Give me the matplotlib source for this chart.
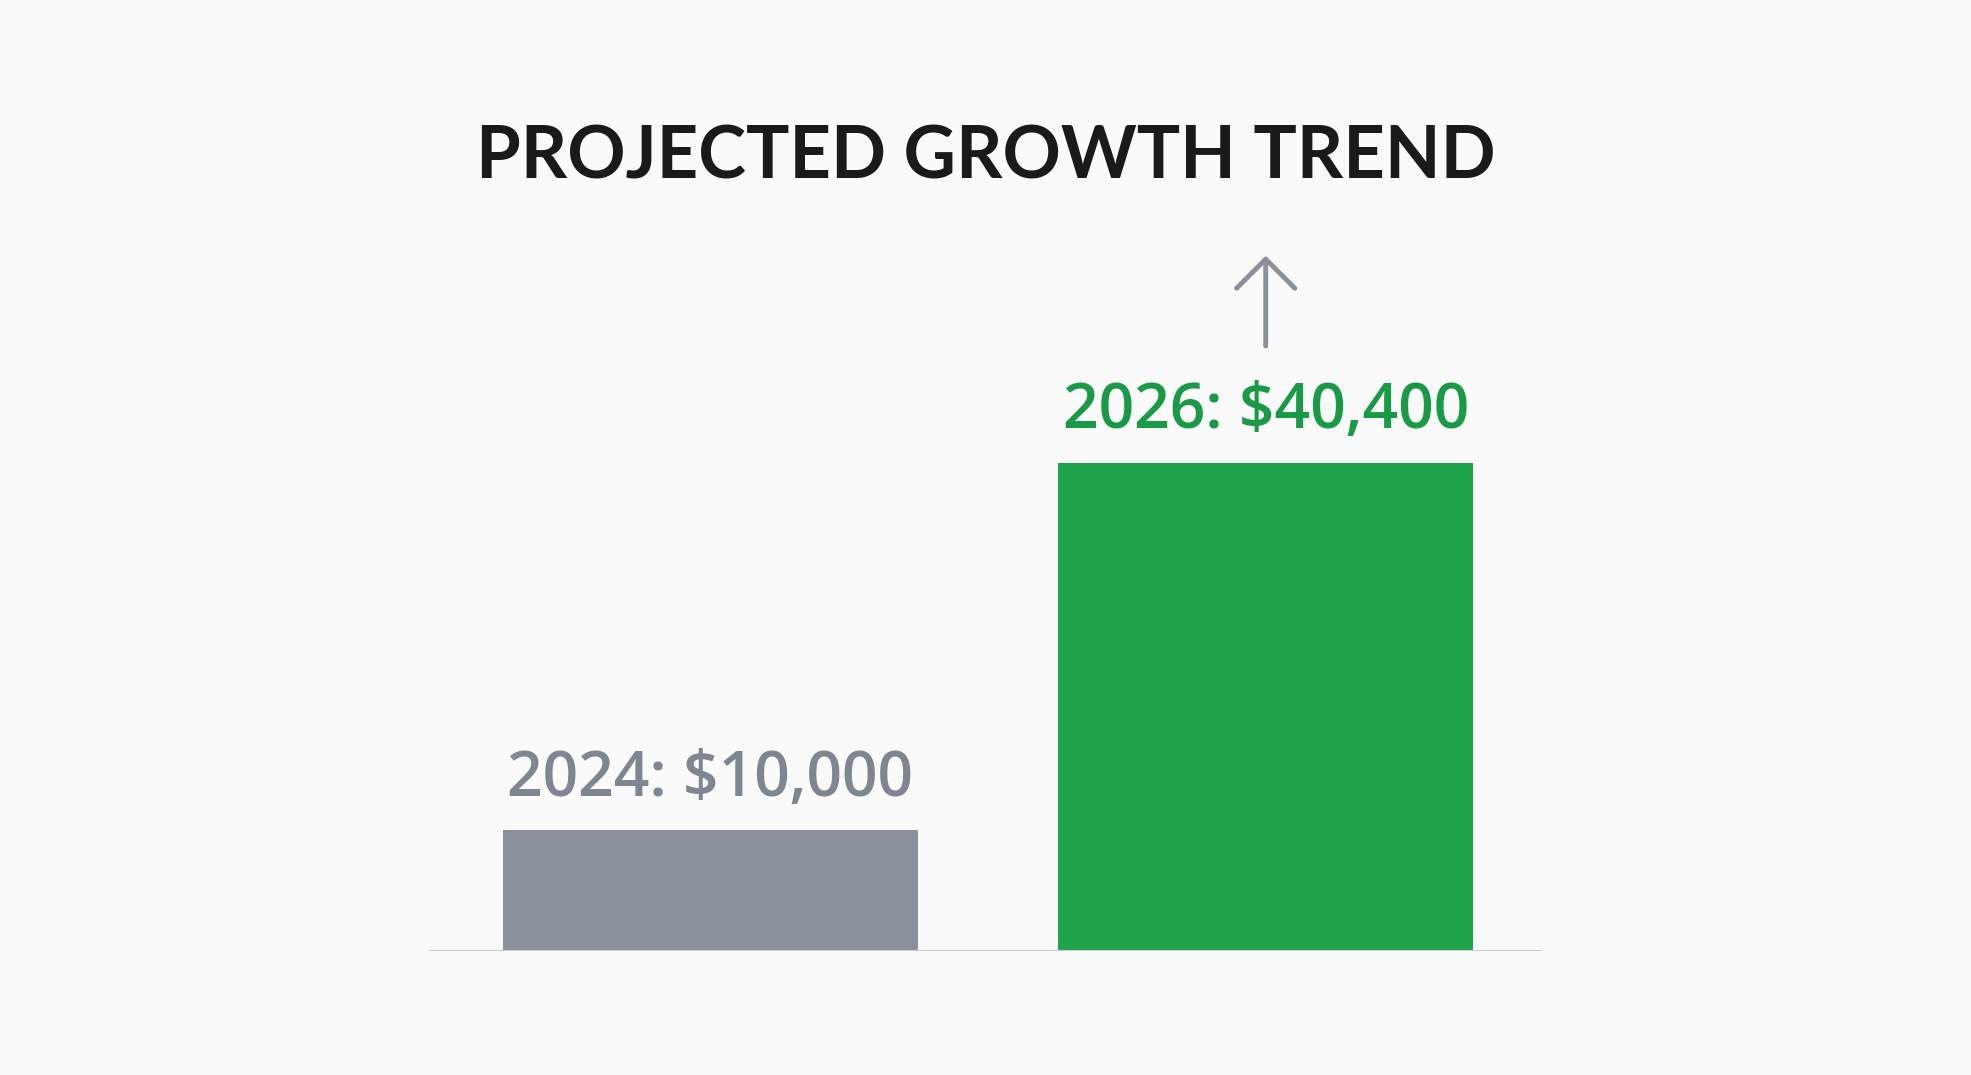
import matplotlib.pyplot as plt
from matplotlib.transforms import offset_copy

years = ["2024", "2026"]
values = [10000, 40400]
bar_colors = ["#8a909c", "#1fa34a"]
label_colors = ["#7f8591", "#1a9a47"]

fig = plt.figure(figsize=(19.71, 10.75), dpi=100, facecolor="#fafafa")
ax = fig.add_axes([0.2175, 0.115, 0.565, 0.835])
ax.set_facecolor("#fafafa")

ax.bar(range(len(values)), values, width=0.747, color=bar_colors, zorder=2)
ax.set_xlim(-0.507, 1.498)
ax.set_ylim(0, 74200)

for i, (yr, v) in enumerate(zip(years, values)):
    ax.annotate(f"{yr}: ${v:,}", (i, v), xytext=(0, 14), textcoords="offset points",
                ha="center", va="bottom", fontsize=45, fontweight="semibold",
                color=label_colors[i], family=["Open Sans", "DejaVu Sans"])

# growth arrow above the taller bar
tr_head = offset_copy(ax.transData, fig=fig, x=0, y=149, units="points")
tr_tail = offset_copy(ax.transData, fig=fig, x=0, y=84, units="points")
ax.annotate("", xy=(1, values[1]), xycoords=tr_head,
            xytext=(1, values[1]), textcoords=tr_tail,
            arrowprops=dict(arrowstyle="->,head_length=2.1,head_width=2.1",
                            color="#8a8f99", lw=3.5, shrinkA=0, shrinkB=0))

ax.axhline(0, color="#cccccc", lw=1.5, zorder=3)
for s in ax.spines.values():
    s.set_visible(False)
ax.set_xticks([])
ax.set_yticks([])

fig.text(0.5, 0.853, "PROJECTED GROWTH TREND", ha="center", va="center",
         fontsize=52, fontweight="bold", color="#1a1a1a",
         family=["Lato", "DejaVu Sans"])

fig.savefig("out.png", dpi=100, facecolor=fig.get_facecolor())
